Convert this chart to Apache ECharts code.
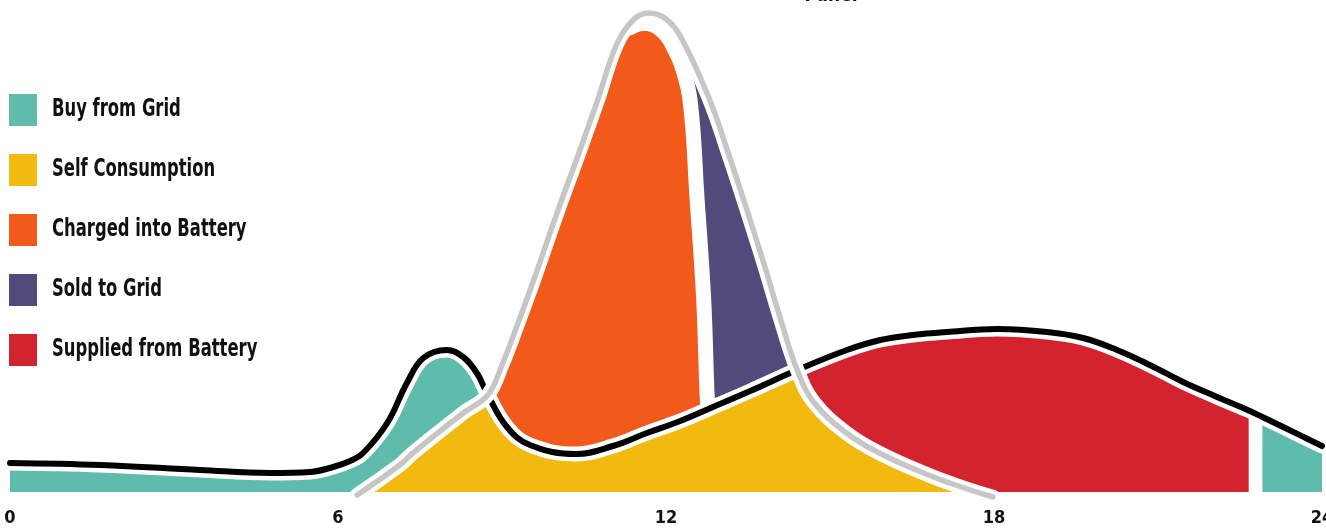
<!DOCTYPE html>
<html>
<head>
<meta charset="utf-8">
<script src="https://cdn.jsdelivr.net/npm/echarts@6/dist/echarts.min.js"></script>
<style>
  html, body { margin: 0; padding: 0; background: #fff; }
  #chart { width: 1326px; height: 529px; }
</style>
</head>
<body>
<div id="chart"></div>
<script>
// ---- data (hour of day, power) ----
const hourTicks = [0, 6, 12, 18, 24];
const legendNames = ['Buy from Grid', 'Self Consumption', 'Charged into Battery', 'Sold to Grid', 'Supplied from Battery'];

// household consumption (black line)
const loadCurve = [
  [0, 0.29], [1.65, 0.27], [3.48, 0.22], [4.76, 0.19], [5.49, 0.20], [5.91, 0.25],
  [6.22, 0.31], [6.46, 0.39], [6.90, 0.69], [7.26, 1.09], [7.56, 1.34], [7.99, 1.42],
  [8.29, 1.35], [8.54, 1.19], [8.74, 0.97], [9.09, 0.65], [9.51, 0.47], [10.35, 0.38],
  [11.03, 0.46], [11.65, 0.59], [12.26, 0.71], [12.86, 0.85], [13.54, 1.01],
  [14.40, 1.22], [15.31, 1.42], [15.92, 1.52], [16.52, 1.57], [17.14, 1.60], [18.06, 1.63],
  [18.97, 1.60], [19.63, 1.54], [20.25, 1.42], [20.85, 1.27], [21.46, 1.10], [22.08, 0.95],
  [22.64, 0.82], [22.91, 0.75], [23.29, 0.65], [24, 0.46]
];

// solar panel production (grey line)
const solarCurve = [
  [6.35, -0.03], [7.13, 0.27], [7.37, 0.39], [8.29, 0.79], [8.74, 0.97], [9.0, 1.27],
  [9.3, 1.70], [9.6, 2.15], [10.0, 2.78], [10.4, 3.38], [10.75, 3.92], [11.1, 4.48],
  [11.4, 4.72], [11.67, 4.79], [12.0, 4.73], [12.3, 4.52], [12.8, 3.92], [13.12, 3.42],
  [13.48, 2.82], [13.81, 2.25], [14.1, 1.72], [14.40, 1.22], [14.7, 0.90], [15.3, 0.59],
  [15.9, 0.39], [16.8, 0.17], [17.4, 0.05], [17.98, -0.05]
];

// upper edge of "Charged into Battery" near the solar peak
const chargeTopEdge = [
  [11.42, 4.58], [11.6, 4.61], [11.83, 4.55], [12.02, 4.39], [12.2, 4.15],
  [12.29, 3.92], [12.44, 2.92], [12.57, 1.92], [12.62, 0.99], [12.64, 0.77]
];

// white gap between "Charged into Battery" and "Sold to Grid"
const splitChargeSold = [
  [11.98, 4.67], [12.11, 4.54], [12.26, 4.32], [12.44, 3.92], [12.57, 2.92], [12.69, 1.92], [12.75, 0.99], [12.77, 0.82]
];

// region limits (hours)
const crossMorning = 8.74;   // solar overtakes consumption
const crossEvening = 14.40;  // consumption overtakes solar
const chargeSideEnd = 11.1;
const soldStart = 12.3;
const batteryEmpty = 22.64;
const gridAgain = 22.91;

const colors = {
  grid: '#5fbcad', self: '#f2b90f', charge: '#f25a1c', sold: '#524a7a', battery: '#d2232e',
  solar: '#c6c6c6', load: '#000000'
};

// ---- helpers ----
function part(arr, a, b) { return arr.filter(p => p[0] >= a - 1e-9 && p[0] <= b + 1e-9); }
function floor0(arr) { return arr.map(p => [p[0], Math.max(0, p[1])]); }

const FONT = "'DejaVu Sans Condensed', 'DejaVu Sans', sans-serif";
const SMOOTH = 0.4;

function area(name, color, data) {
  return {
    name: name, type: 'line', data: data, smooth: SMOOTH, symbol: 'none', z: 2,
    clip: false, silent: true,
    lineStyle: { width: 0, color: color },
    itemStyle: { color: color },
    areaStyle: { color: color, opacity: 1, shadowColor: color, shadowBlur: 0, shadowOffsetX: 1 }
  };
}
function stroke(name, color, width, data, z, cap) {
  return {
    name: name, type: 'line', data: data, smooth: SMOOTH, symbol: 'none', z: z,
    clip: false, silent: true,
    lineStyle: { width: width, color: color, cap: cap || 'round', join: 'round' },
    itemStyle: { color: color }
  };
}

// legend labels: condensed lettering (narrowed real text next to the legend swatches)
const legendTop = 94, legendStep = 60, swatchH = 32;
const legendLabels = legendNames.map((n, i) => ({
  type: 'text', x: 52, y: legendTop + i * legendStep + swatchH / 2, scaleX: 0.76, originX: 0, originY: 0,
  style: { text: n, fill: '#111', font: "bold 24px " + FONT, align: 'left', verticalAlign: 'middle' }
}));

const chart = echarts.init(document.getElementById('chart'), null, { renderer: 'canvas' });
chart.setOption({
  animation: false,
  backgroundColor: '#ffffff',
  grid: { left: 10, right: 4, top: 0, bottom: 27, containLabel: false, outerBoundsMode: 'none' },
  xAxis: {
    type: 'value', min: 0, max: 24, interval: 6,
    axisLine: { show: false }, axisTick: { show: false }, splitLine: { show: false },
    axisLabel: {
      margin: 7, color: '#111', fontFamily: FONT, fontWeight: 'bold', fontSize: 18,
      formatter: v => hourTicks.includes(v) ? String(v) : ''
    }
  },
  yAxis: {
    type: 'value', min: -0.1, max: 4.92, show: false,
    axisLine: { show: false }, axisTick: { show: false }, splitLine: { show: false }, axisLabel: { show: false }
  },
  legend: {
    data: legendNames,
    orient: 'vertical', left: 9, top: legendTop, padding: 0, itemWidth: 28, itemHeight: swatchH, itemGap: legendStep - swatchH,
    icon: 'rect', selectedMode: false,
    formatter: () => '',
    itemStyle: { borderWidth: 0, shadowBlur: 0, shadowOffsetX: 0 },
    textStyle: { fontSize: 1 }
  },
  graphic: legendLabels.concat([{
    type: 'text', x: 831, y: 6,
    style: { text: 'Panel', fill: '#111', font: "bold 19px " + FONT, align: 'center', verticalAlign: 'bottom' }
  }]),
  series: [
    area('Buy from Grid', colors.grid, part(loadCurve, 0, crossMorning)),
    area('Buy from Grid', colors.grid, part(loadCurve, gridAgain, 24)),
    area('Supplied from Battery', colors.battery, part(loadCurve, crossEvening, batteryEmpty)),
    area('Sold to Grid', colors.sold, part(solarCurve, soldStart, crossEvening)),
    area('Charged into Battery', colors.charge, part(solarCurve, crossMorning, chargeSideEnd).concat(chargeTopEdge)),
    area('Self Consumption', colors.self, floor0(part(solarCurve, 0, crossMorning))),
    area('Self Consumption', colors.self, part(loadCurve, crossMorning, crossEvening)),
    area('Self Consumption', colors.self, floor0(part(solarCurve, crossEvening, 24))),
    stroke('split', '#ffffff', 15, splitChargeSold, 3, 'butt'),
    stroke('loadGap', '#ffffff', 15, loadCurve, 4),
    stroke('Consumption', colors.load, 6, loadCurve, 5),
    stroke('solarGap', '#ffffff', 14.5, solarCurve, 6),
    stroke('Solar Panel', colors.solar, 5.5, solarCurve, 7)
  ]
});
</script>
</body>
</html>
